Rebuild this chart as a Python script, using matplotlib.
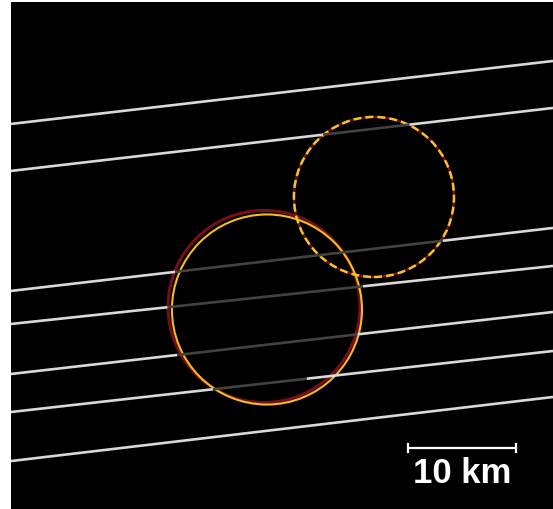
import matplotlib.pyplot as plt
from matplotlib.patches import Circle

# chord endpoints (km): y at the west and east edges of the panel
chord_y_west = [35.65, 31.30, 20.19, 17.13, 12.50, 8.98, 4.44]
chord_y_east = [41.48, 37.13, 26.02, 22.50, 18.24, 14.63, 10.37]
# disappearance / reappearance along x (km); None = no event on that chord
chord_events = [None, (28.9, 36.9), (15.2, 40.0), (14.5, 32.6),
                (15.4, 32.1), (18.7, 27.4), None]

# fitted limb profiles: (x, y, radius) in km
fit_main = (23.70, 18.47, 8.80)
fit_prev = (23.43, 18.75, 8.89)
fit_alt = (33.61, 28.89, 7.41)

scale_km = 10
x_max, y_max = 50.19, 46.94

fig = plt.figure(figsize=(5.53, 5.09), dpi=100)
fig.patch.set_facecolor("white")
ax = fig.add_axes([11 / 553, 0, 542 / 553, 507 / 509])
ax.set_facecolor("black")
ax.set_xlim(0, x_max)
ax.set_ylim(0, y_max)
ax.set_axis_off()
ax.add_patch(plt.Rectangle((0, 0), x_max, y_max, color="black", zorder=0))

bright = "#d9d9d9"
dim = "#424242"
for y0, y1, ev in zip(chord_y_west, chord_y_east, chord_events):
    slope = (y1 - y0) / x_max
    if ev is None:
        ax.plot([0, x_max], [y0, y1], color=bright, lw=1.9, solid_capstyle="butt")
        continue
    xa, xb = ev
    ya, yb = y0 + slope * xa, y0 + slope * xb
    ax.plot([0, xa], [y0, ya], color=bright, lw=1.9, solid_capstyle="butt")
    ax.plot([xa, xb], [ya, yb], color=dim, lw=1.9, solid_capstyle="butt")
    ax.plot([xb, x_max], [yb, y1], color=bright, lw=1.9, solid_capstyle="butt")

gold = "#f4bb22"
maroon = "#740e1a"
ax.add_patch(Circle(fit_prev[:2], fit_prev[2], fill=False, ec=maroon, lw=2.2))
ax.add_patch(Circle(fit_alt[:2], fit_alt[2], fill=False, ec=maroon, lw=1.6))
ax.add_patch(Circle(fit_main[:2], fit_main[2], fill=False, ec=gold, lw=1.5))
ax.add_patch(Circle(fit_alt[:2], fit_alt[2], fill=False, ec="#f6c22c", lw=1.8,
                    ls=(0, (3.2, 1.6))))

# scale bar
sx0 = (408 - 11) / 10.8
sy = (509 - 448) / 10.8
ax.plot([sx0, sx0 + scale_km], [sy, sy], color="white", lw=1.6)
for xe in (sx0, sx0 + scale_km):
    ax.plot([xe, xe], [sy - 0.4, sy + 0.4], color="white", lw=1.6)
ax.text(sx0 + scale_km / 2, sy - 0.8, f"{scale_km} km", color="white",
        fontsize=25, fontweight="bold", ha="center", va="top",
        family="Liberation Sans")

fig.savefig("out.png", dpi=100, facecolor="white")
